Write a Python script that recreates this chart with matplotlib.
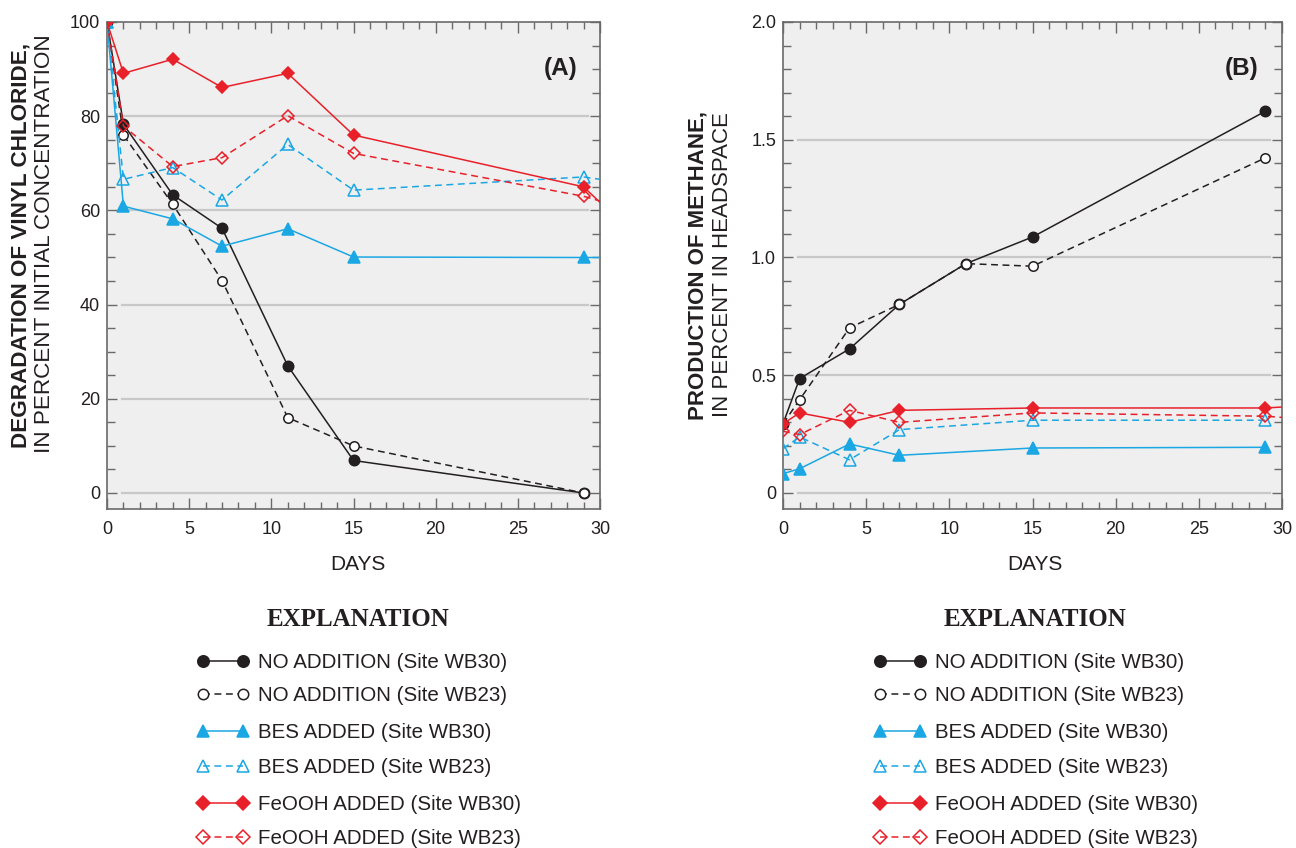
import numpy as np
import matplotlib
matplotlib.use("Agg")
import matplotlib.pyplot as plt
from matplotlib.lines import Line2D
from matplotlib.ticker import MultipleLocator

plt.rcParams['font.family'] = ['Liberation Sans', 'DejaVu Sans']

# sampling days (a trailing day-30 value carries the line to the frame edge)
days = [0, 1, 4, 7, 11, 15, 29]
days_tail = [0, 1, 4, 7, 11, 15, 29, 30]

# (A) vinyl chloride remaining, percent of initial concentration
vc_none_wb30 = [100, 78.3, 63.3, 56.2, 27.0, 6.9, 0]
vc_none_wb23 = [100, 76.0, 61.3, 45.1, 16.0, 10.0, 0]
vc_bes_wb30 = [100, 60.9, 58.2, 52.4, 56.1, 50.1, 50.0, 50.0]
vc_bes_wb23 = [100, 66.6, 69.1, 62.2, 74.0, 64.3, 67.1, 66.6]
vc_fe_wb30 = [100, 89.1, 92.1, 86.1, 89.1, 76.0, 65.0, 61.7]
vc_fe_wb23 = [100, 77.9, 69.3, 71.2, 80.1, 72.1, 63.0, 62.0]

# (B) methane in headspace, percent
ch4_none_wb30 = [0.294, 0.486, 0.612, 0.801, 0.974, 1.087, 1.621]
ch4_none_wb23 = [0.294, 0.396, 0.701, 0.801, 0.974, 0.963, 1.423]
ch4_bes_wb30 = [0.082, 0.103, 0.208, 0.160, None, 0.191, 0.194]
ch4_bes_wb23 = [0.188, 0.238, 0.141, 0.269, None, 0.309, 0.309]
ch4_fe_wb30 = [0.294, 0.340, 0.300, 0.351, None, 0.361, 0.361, 0.365]
ch4_fe_wb23 = [0.262, 0.248, 0.351, 0.300, None, 0.340, 0.326, 0.321]

legend_labels = ["NO ADDITION (Site WB30)", "NO ADDITION (Site WB23)",
                 "BES ADDED (Site WB30)", "BES ADDED (Site WB23)",
                 "FeOOH ADDED (Site WB30)", "FeOOH ADDED (Site WB23)"]

BLACK = '#231f20'
CYAN = '#1aa7e3'
RED = '#e8202a'
FACE = '#efefef'
GRID = '#c8c8c8'
SPINE = '#6a6a6a'

DASH = (0, (4.5, 3))
styles = [
    dict(color=BLACK, ls='-', marker='o', mfc=BLACK, ms=7.5),
    dict(color=BLACK, ls=DASH, marker='o', mfc='white', ms=6.8),
    dict(color=CYAN, ls='-', marker='^', mfc=CYAN, ms=8.5),
    dict(color=CYAN, ls=DASH, marker='^', mfc='none', ms=8),
    dict(color=RED, ls='-', marker='D', mfc=RED, ms=6.5),
    dict(color=RED, ls=DASH, marker='D', mfc='none', ms=6.5),
]

W, H = 1296, 848
fig = plt.figure(figsize=(W / 100, H / 100), dpi=100, facecolor='white')


def px_axes(left, top, right, bottom):
    return fig.add_axes([left / W, 1 - bottom / H, (right - left) / W, (bottom - top) / H])


def draw_series(ax, x, y, st):
    x = np.asarray(x[:len(y)], dtype=float)
    y = np.array([np.nan if v is None else v for v in y], dtype=float)
    keep = ~np.isnan(y)
    x, y = x[keep], y[keep]
    # no marker on the day-30 tail value
    n_marks = min(len(x), 7 - int((~keep).sum()))
    ax.plot(x, y, color=st['color'], ls=st['ls'], lw=1.1, marker=st['marker'],
            ms=st['ms'], mfc=st['mfc'], mec=st['color'], mew=1.1,
            markevery=list(range(n_marks)), clip_on=True, zorder=3)


def style_axes(ax, ymin, ymax, ymajor, yminor, ylabels):
    ax.set_facecolor(FACE)
    ax.set_xlim(0, 30)
    ax.set_ylim(ymin, ymax)
    ax.xaxis.set_major_locator(MultipleLocator(5))
    ax.xaxis.set_minor_locator(MultipleLocator(1))
    ax.yaxis.set_major_locator(MultipleLocator(ymajor))
    ax.yaxis.set_minor_locator(MultipleLocator(yminor))
    ax.set_yticks(np.arange(0, ymax + ymajor / 2, ymajor))
    ax.set_yticklabels(ylabels)
    ax.tick_params(which='both', direction='in', top=True, right=True,
                   color=SPINE, width=1.0, labelsize=13, labelcolor=BLACK)
    ax.tick_params(axis='x', which='major', length=8, pad=9)
    ax.tick_params(axis='x', which='minor', length=5)
    ax.tick_params(axis='y', which='major', length=7, pad=5)
    ax.tick_params(axis='y', which='minor', length=6)
    for s in ax.spines.values():
        s.set_color(SPINE)
        s.set_linewidth(1.2)
    for yv in np.arange(0, ymax + ymajor / 2, ymajor)[:-1]:
        ax.axhline(yv, xmin=0.03, xmax=0.975, color=GRID, lw=1.6, zorder=1)


# panel A
axA = px_axes(107, 22, 600, 509)
style_axes(axA, -3.4, 100, 20, 5, ['0', '20', '40', '60', '80', '100'])
for yv, st in zip([vc_none_wb30, vc_none_wb23, vc_bes_wb30, vc_bes_wb23, vc_fe_wb30, vc_fe_wb23], styles):
    draw_series(axA, days_tail, yv, st)
axA.text(0.92, 0.905, '(A)', transform=axA.transAxes, ha='center', va='center',
         fontsize=17.5, fontweight='bold', color=BLACK)

# panel B
axB = px_axes(783, 22, 1282, 509)
style_axes(axB, -0.068, 2.0, 0.5, 0.1, ['0', '0.5', '1.0', '1.5', '2.0'])
for yv, st in zip([ch4_none_wb30, ch4_none_wb23, ch4_bes_wb30, ch4_bes_wb23, ch4_fe_wb30, ch4_fe_wb23], styles):
    draw_series(axB, days_tail, yv, st)
axB.text(0.92, 0.905, '(B)', transform=axB.transAxes, ha='center', va='center',
         fontsize=17.5, fontweight='bold', color=BLACK)

# axis titles
for cx in (358, 1035):
    fig.text(cx / W, 1 - 565 / H, 'DAYS', ha='center', va='center', fontsize=15, color=BLACK)

fig.text(21 / W, 1 - 245 / H, 'DEGRADATION OF VINYL CHLORIDE,', rotation=90,
         ha='center', va='center', fontsize=16.2, fontweight='bold', color=BLACK)
fig.text(45 / W, 1 - 244 / H, 'IN PERCENT INITIAL CONCENTRATION', rotation=90,
         ha='center', va='center', fontsize=16.2, color=BLACK)
fig.text(698 / W, 1 - 265 / H, 'PRODUCTION OF METHANE,', rotation=90,
         ha='center', va='center', fontsize=16, fontweight='bold', color=BLACK)
fig.text(722 / W, 1 - 265 / H, 'IN PERCENT IN HEADSPACE', rotation=90,
         ha='center', va='center', fontsize=16, color=BLACK)

# explanation blocks
row_y = [661, 694, 731, 766, 803, 837]
for x0 in (203, 880):
    fig.text((x0 + 155) / W, 1 - 620 / H, 'EXPLANATION', ha='center', va='center',
             fontsize=18, fontweight='bold', family=['Liberation Serif', 'DejaVu Serif'],
             color=BLACK)
    for ry, st, lab in zip(row_y, styles, legend_labels):
        yf = 1 - ry / H
        fig.add_artist(Line2D([x0 / W, (x0 + 40) / W], [yf, yf], color=st['color'],
                              ls=st['ls'], lw=1.1, marker=st['marker'],
                              ms=st['ms'] * 1.1, mfc=st['mfc'], mec=st['color'], mew=1.1))
        fig.text((x0 + 55) / W, yf - 1.5 / H, lab, ha='left', va='center', fontsize=14.8,
                 color=BLACK)

fig.savefig('out.png', dpi=100, facecolor='white')
